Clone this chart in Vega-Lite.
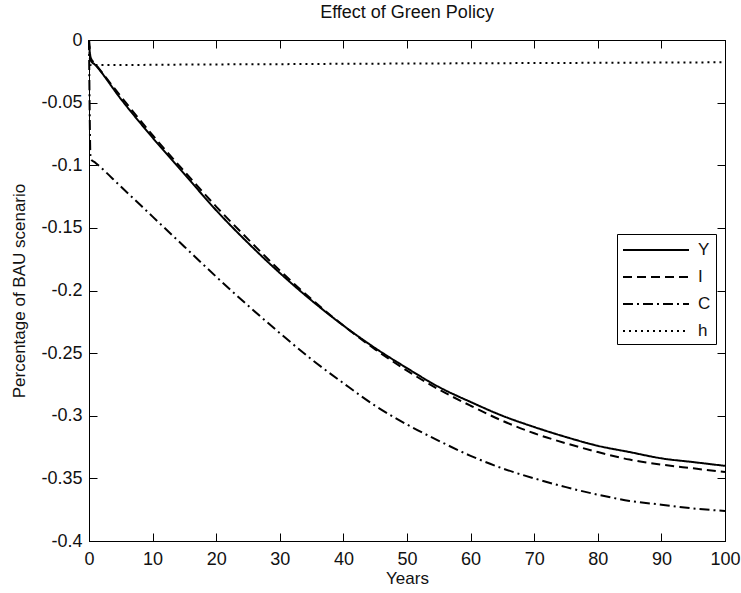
{
  "$schema": "https://vega.github.io/schema/vega-lite/v6.json",
  "width": 636,
  "height": 501,
  "autosize": "none",
  "padding": {"left": 89, "top": 40, "right": 16, "bottom": 52},
  "background": "white",
  "title": {"text": "Effect of Green Policy", "fontSize": 18, "fontWeight": "normal", "font": "Liberation Sans", "color": "#111", "offset": 9, "anchor": "middle"},
  "config": {
    "view": {"stroke": "black", "strokeWidth": 1},
    "font": "Liberation Sans",
    "axis": {
      "domainColor": "black", "tickColor": "black", "labelColor": "#111", "titleColor": "#111",
      "labelFontSize": 18, "titleFontSize": 17, "titleFontWeight": "normal",
      "tickSize": -8, "grid": false, "labelFont": "Liberation Sans", "titleFont": "Liberation Sans"
    }
  },
  "data": {"values": [
    {"t": 0, "v": 0, "s": "Y"}, {"t": 0.25, "v": -0.016, "s": "Y"}, {"t": 1, "v": -0.020, "s": "Y"},
    {"t": 5, "v": -0.047, "s": "Y"}, {"t": 10, "v": -0.078, "s": "Y"}, {"t": 15, "v": -0.107, "s": "Y"},
    {"t": 20, "v": -0.136, "s": "Y"}, {"t": 25, "v": -0.162, "s": "Y"}, {"t": 30, "v": -0.186, "s": "Y"},
    {"t": 35, "v": -0.208, "s": "Y"}, {"t": 40, "v": -0.228, "s": "Y"}, {"t": 45, "v": -0.246, "s": "Y"},
    {"t": 50, "v": -0.262, "s": "Y"}, {"t": 55, "v": -0.277, "s": "Y"}, {"t": 60, "v": -0.289, "s": "Y"},
    {"t": 65, "v": -0.300, "s": "Y"}, {"t": 70, "v": -0.309, "s": "Y"}, {"t": 75, "v": -0.317, "s": "Y"},
    {"t": 80, "v": -0.324, "s": "Y"}, {"t": 85, "v": -0.329, "s": "Y"}, {"t": 90, "v": -0.334, "s": "Y"},
    {"t": 95, "v": -0.337, "s": "Y"}, {"t": 100, "v": -0.340, "s": "Y"},

    {"t": 0, "v": 0, "s": "I"}, {"t": 0.25, "v": -0.014, "s": "I"}, {"t": 1, "v": -0.019, "s": "I"},
    {"t": 5, "v": -0.045, "s": "I"}, {"t": 10, "v": -0.076, "s": "I"}, {"t": 15, "v": -0.105, "s": "I"},
    {"t": 20, "v": -0.133, "s": "I"}, {"t": 25, "v": -0.159, "s": "I"}, {"t": 30, "v": -0.184, "s": "I"},
    {"t": 35, "v": -0.207, "s": "I"}, {"t": 40, "v": -0.228, "s": "I"}, {"t": 45, "v": -0.247, "s": "I"},
    {"t": 50, "v": -0.264, "s": "I"}, {"t": 55, "v": -0.279, "s": "I"}, {"t": 60, "v": -0.292, "s": "I"},
    {"t": 65, "v": -0.304, "s": "I"}, {"t": 70, "v": -0.314, "s": "I"}, {"t": 75, "v": -0.322, "s": "I"},
    {"t": 80, "v": -0.329, "s": "I"}, {"t": 85, "v": -0.335, "s": "I"}, {"t": 90, "v": -0.339, "s": "I"},
    {"t": 95, "v": -0.342, "s": "I"}, {"t": 100, "v": -0.345, "s": "I"},

    {"t": 0, "v": 0, "s": "C"}, {"t": 0.25, "v": -0.095, "s": "C"}, {"t": 1, "v": -0.098, "s": "C"},
    {"t": 5, "v": -0.117, "s": "C"}, {"t": 10, "v": -0.141, "s": "C"}, {"t": 15, "v": -0.165, "s": "C"},
    {"t": 20, "v": -0.189, "s": "C"}, {"t": 25, "v": -0.212, "s": "C"}, {"t": 30, "v": -0.234, "s": "C"},
    {"t": 35, "v": -0.255, "s": "C"}, {"t": 40, "v": -0.274, "s": "C"}, {"t": 45, "v": -0.292, "s": "C"},
    {"t": 50, "v": -0.307, "s": "C"}, {"t": 55, "v": -0.320, "s": "C"}, {"t": 60, "v": -0.332, "s": "C"},
    {"t": 65, "v": -0.342, "s": "C"}, {"t": 70, "v": -0.350, "s": "C"}, {"t": 75, "v": -0.357, "s": "C"},
    {"t": 80, "v": -0.363, "s": "C"}, {"t": 85, "v": -0.368, "s": "C"}, {"t": 90, "v": -0.371, "s": "C"},
    {"t": 95, "v": -0.374, "s": "C"}, {"t": 100, "v": -0.376, "s": "C"},

    {"t": 0, "v": 0, "s": "h"}, {"t": 0.25, "v": -0.0200, "s": "h"}, {"t": 1, "v": -0.0200, "s": "h"},
    {"t": 5, "v": -0.0200, "s": "h"}, {"t": 10, "v": -0.0198, "s": "h"}, {"t": 20, "v": -0.0195, "s": "h"},
    {"t": 30, "v": -0.0193, "s": "h"}, {"t": 40, "v": -0.0190, "s": "h"}, {"t": 50, "v": -0.0188, "s": "h"},
    {"t": 60, "v": -0.0186, "s": "h"}, {"t": 70, "v": -0.0184, "s": "h"}, {"t": 80, "v": -0.0182, "s": "h"},
    {"t": 90, "v": -0.0180, "s": "h"}, {"t": 100, "v": -0.0178, "s": "h"}
  ]},
  "layer": [
    {
      "mark": {"type": "line", "color": "black", "strokeWidth": 2, "interpolate": "monotone"},
      "encoding": {
        "x": {"field": "t", "type": "quantitative", "scale": {"domain": [0, 100], "nice": false, "zero": false},
          "axis": {"title": "Years", "values": [0, 10, 20, 30, 40, 50, 60, 70, 80, 90, 100], "labelPadding": 17, "titlePadding": 2, "labelFlush": false}},
        "y": {"field": "v", "type": "quantitative", "scale": {"domain": [-0.4, 0], "nice": false},
          "axis": {"title": "Percentage of BAU scenario", "values": [0, -0.05, -0.1, -0.15, -0.2, -0.25, -0.3, -0.35, -0.4], "format": "~g", "labelExpr": "replace(datum.label, '\u2212', '-')", "labelPadding": 15, "titlePadding": 12, "labelFlush": false}},
        "strokeDash": {
          "field": "s", "type": "nominal",
          "scale": {"domain": ["Y", "I", "C", "h"], "range": [[1, 0], [9, 5], [10, 4, 2, 4], [2, 4]]},
          "legend": {
            "title": null, "orient": "none", "legendX": 528, "legendY": 194,
            "strokeColor": "black", "fillColor": "white", "padding": 5,
            "symbolType": "M-1,0H5.6", "symbolSize": 400, "symbolStrokeWidth": 2, "symbolStrokeColor": "black",
            "labelFontSize": 17, "labelColor": "#111", "labelOffset": 54, "rowPadding": 8
          }
        }
      }
    },
    {
      "mark": {"type": "point", "opacity": 0},
      "encoding": {
        "x": {"field": "t", "type": "quantitative",
          "axis": {"orient": "top", "labels": false, "title": null, "values": [0, 10, 20, 30, 40, 50, 60, 70, 80, 90, 100]}},
        "y": {"field": "v", "type": "quantitative",
          "axis": {"orient": "right", "labels": false, "title": null, "values": [0, -0.05, -0.1, -0.15, -0.2, -0.25, -0.3, -0.35, -0.4]}}
      }
    }
  ],
  "resolve": {"axis": {"x": "independent", "y": "independent"}}
}
